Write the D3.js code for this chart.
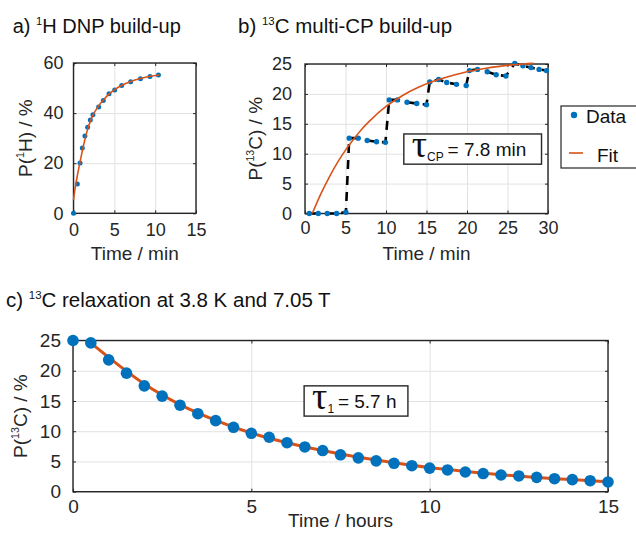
<!DOCTYPE html>
<html>
<head>
<meta charset="utf-8">
<script src="https://cdn.jsdelivr.net/npm/d3@7"></script>
<style>
  body { margin: 0; background: #fff; }
  svg { display: block; font-family: "Liberation Sans", Arial, sans-serif; }
  .grid line { stroke: #e2e2e2; stroke-width: 1; }
  .grid path, .ax path { display: none; }
  .ax line { stroke: #262626; stroke-width: 1; }
  .ax text { fill: #262626; font-family: "Liberation Sans", Arial, sans-serif; }
</style>
</head>
<body>
<script>
  // a) 1H DNP build-up (time in min, polarisation in %)
  var hTime = [0, 0.47, 0.8, 1.08, 1.4, 1.73, 2.06, 2.38, 3.08, 3.65, 4.35, 5.04, 5.9, 7.0, 8.2, 9.36, 10.4];
  var hPol = [0, 11.7, 20.1, 26.1, 30.9, 34.4, 37.2, 39.3, 42.4, 45.0, 47.7, 49.2, 51.0, 52.5, 53.7, 54.6, 55.2];
  var hFitTime = [0, 0.2, 0.5, 0.8, 1.1, 1.4, 1.7, 2.0, 2.4, 3.0, 3.6, 4.3, 5.0, 6.0, 7.0, 8.2, 9.4, 10.5];
  var hFitPol = [5.3, 10.0, 15.5, 20.5, 25.2, 29.5, 33.2, 36.2, 39.3, 42.5, 45.0, 47.5, 49.3, 51.2, 52.6, 53.8, 54.7, 55.2];

  // b) 13C multi-CP build-up
  var cpTime = [0.53, 1.64, 2.75, 3.9, 5.05,
                5.46, 6.57, 7.68, 8.83, 9.93,
                10.4, 11.4, 12.6, 13.8, 15.0,
                15.4, 16.5, 17.5, 18.7, 19.9,
                20.3, 21.3, 22.5, 23.6, 24.8,
                25.9, 26.9, 27.9, 28.9, 29.8];
  var cpPol = [0, 0, 0, 0, 0.2,
               12.6, 12.6, 12.2, 12.0, 11.9,
               19.0, 19.0, 18.6, 18.4, 18.2,
               22.0, 22.4, 21.9, 21.6, 21.4,
               23.9, 24.1, 23.7, 23.2, 23.0,
               25.1, 24.7, 24.4, 24.1, 23.9];
  var cpFitTime = [0.9, 2, 3, 4, 5, 6, 7, 8, 10, 12, 14, 16, 18, 20, 22, 24, 26, 28.2];
  var cpFitPol = [0, 3.4, 6.1, 8.5, 10.6, 12.4, 14.1, 15.5, 17.9, 19.7, 21.1, 22.2, 23.0, 23.7, 24.2, 24.6, 24.9, 25.1];

  // c) 13C relaxation at 3.8 K and 7.05 T (time in hours)
  var relaxTime = [0, 0.5, 1, 1.5, 2, 2.5, 3, 3.5, 4, 4.5, 5, 5.5, 6, 6.5, 7, 7.5, 8, 8.5,
                   9, 9.5, 10, 10.5, 11, 11.5, 12, 12.5, 13, 13.5, 14, 14.5, 15];
  var relaxPol = [25.0, 24.6, 21.8, 19.6, 17.5, 15.8, 14.3, 12.9, 11.75, 10.65, 9.66, 9.0, 8.1, 7.4, 6.8, 6.1, 5.6, 5.1,
                  4.7, 4.3, 3.9, 3.6, 3.26, 3.0, 2.76, 2.6, 2.37, 2.15, 2.0, 1.82, 1.6];
  var relaxFitTime = [0.5, 1, 2, 3, 4, 5, 6, 7, 8, 9, 10, 11, 12, 13, 14, 15];
  var relaxFitPol = [24.6, 22.2, 17.8, 14.4, 11.8, 9.7, 8.1, 6.8, 5.7, 4.8, 4.0, 3.35, 2.8, 2.35, 2.0, 1.65];

  // tick values
  var aXTicks = [0, 5, 10, 15], aYTicks = [0, 20, 40, 60];
  var bXTicks = [0, 5, 10, 15, 20, 25, 30], bYTicks = [0, 5, 10, 15, 20, 25];
  var cXTicks = [0, 5, 10, 15], cYTicks = [0, 5, 10, 15, 20, 25];

  var blue = "#0072BD", orange = "#D95319", ink = "#262626";

  var svg = d3.select("body").append("svg")
    .attr("width", 636)
    .attr("height", 533);

  svg.append("rect").attr("width", 636).attr("height", 533).attr("fill", "#fff");

  // text with super/subscripts: parts = [[text, "sup"|"sub"|null], ...]
  function richText(sel, parts, size) {
    var shift = 0;
    parts.forEach(function (p) {
      var t = sel.append("tspan").text(p[0]);
      var target = p[1] == "sup" ? -size * 0.38 : p[1] == "sub" ? size * 0.3 : 0;
      if (p[1]) t.attr("font-size", size * 0.56);
      if (target != shift) t.attr("dy", target - shift);
      shift = target;
    });
  }

  function drawPanel(p) {
    var x = d3.scaleLinear().domain(p.xDomain).range([p.left, p.right]);
    var y = d3.scaleLinear().domain(p.yDomain).range([p.bottom, p.top]);
    var g = svg.append("g");
    var w = p.right - p.left, h = p.bottom - p.top;

    // grid
    g.append("g").attr("class", "grid")
      .attr("transform", "translate(0," + p.bottom + ")")
      .call(d3.axisBottom(x).tickValues(p.xTicks).tickSize(-h).tickFormat(""));
    g.append("g").attr("class", "grid")
      .attr("transform", "translate(" + p.left + ",0)")
      .call(d3.axisLeft(y).tickValues(p.yTicks).tickSize(-w).tickFormat(""));

    // inward ticks on all four sides
    var xb = g.append("g").attr("class", "ax")
      .attr("transform", "translate(0," + p.bottom + ")")
      .call(d3.axisBottom(x).tickValues(p.xTicks).tickSize(-3).tickPadding(p.xPad));
    var yl = g.append("g").attr("class", "ax")
      .attr("transform", "translate(" + p.left + ",0)")
      .call(d3.axisLeft(y).tickValues(p.yTicks).tickSize(-3).tickPadding(p.yPad));
    g.append("g").attr("class", "ax")
      .attr("transform", "translate(0," + p.top + ")")
      .call(d3.axisTop(x).tickValues(p.xTicks).tickSize(-3).tickFormat(""));
    g.append("g").attr("class", "ax")
      .attr("transform", "translate(" + p.right + ",0)")
      .call(d3.axisRight(y).tickValues(p.yTicks).tickSize(-3).tickFormat(""));
    xb.selectAll("text").attr("font-size", p.tickFont);
    yl.selectAll("text").attr("font-size", p.tickFont);

    g.append("rect")
      .attr("x", p.left).attr("y", p.top)
      .attr("width", w).attr("height", h)
      .attr("fill", "none").attr("stroke", ink).attr("stroke-width", 1.4);

    // titles and labels
    richText(svg.append("text").attr("x", p.titleX).attr("y", p.titleY)
      .attr("font-size", p.titleFont).attr("fill", "#111"), p.title, p.titleFont);
    svg.append("text")
      .attr("x", (p.left + p.right) / 2).attr("y", p.xLabelY)
      .attr("text-anchor", "middle").attr("font-size", p.labelFont).attr("fill", ink)
      .text(p.xLabel);
    richText(svg.append("text")
      .attr("transform", "translate(" + p.yLabelX + "," + (p.top + p.bottom) / 2 + ")rotate(-90)")
      .attr("text-anchor", "middle").attr("dy", "0.35em")
      .attr("font-size", p.labelFont).attr("fill", ink), p.yLabel, p.labelFont);

    return { x: x, y: y, g: g };
  }

  function curve(panel, xs, ys) {
    return d3.line()
      .x(function (i) { return panel.x(xs[i]); })
      .y(function (i) { return panel.y(ys[i]); })
      .curve(d3.curveMonotoneX)(d3.range(xs.length));
  }

  function dots(panel, xs, ys, r) {
    panel.g.append("g").selectAll("circle")
      .data(d3.range(xs.length))
      .enter().append("circle")
      .attr("cx", function (i) { return panel.x(xs[i]); })
      .attr("cy", function (i) { return panel.y(ys[i]); })
      .attr("r", r)
      .attr("fill", blue);
  }

  function tauBox(panel, box, sub, rest, tauSize) {
    var x0 = panel.x(box[0]), x1 = panel.x(box[1]);
    var y0 = panel.y(box[3]), y1 = panel.y(box[2]);
    panel.g.append("rect")
      .attr("x", x0).attr("y", y0).attr("width", x1 - x0).attr("height", y1 - y0)
      .attr("fill", "#fff").attr("stroke", ink).attr("stroke-width", 1.4);
    var t = panel.g.append("text").attr("x", x0 + 8).attr("y", y1 - 8).attr("fill", "#111");
    t.append("tspan").attr("font-family", "'Liberation Serif', serif").attr("font-size", tauSize)
      .attr("dy", 1).text("\u03c4");
    t.append("tspan").attr("font-size", 12).attr("dy", 4).text(sub);
    t.append("tspan").attr("font-size", 19).attr("dy", -5).text("\u2009= " + rest);
  }

  // ---- panel a ----
  var pa = drawPanel({
    xDomain: [0, 15], yDomain: [0, 60], left: 73.5, right: 196, top: 63, bottom: 213.3,
    xTicks: aXTicks, yTicks: aYTicks, xPad: 10, yPad: 10, tickFont: 18,
    title: [["a) ", null], ["1", "sup"], ["H DNP build-up", null]], titleX: 12.7, titleY: 33, titleFont: 20,
    xLabel: "Time / min", xLabelY: 260, labelFont: 19,
    yLabel: [["P(", null], ["1", "sup"], ["H) / %", null]], yLabelX: 25
  });
  dots(pa, hTime, hPol, 2.5);
  pa.g.append("path").attr("d", curve(pa, hFitTime, hFitPol))
    .attr("fill", "none").attr("stroke", orange).attr("stroke-width", 1.6);

  // ---- panel b ----
  var pb = drawPanel({
    xDomain: [0, 30], yDomain: [0, 25], left: 305, right: 548, top: 64, bottom: 213.5,
    xTicks: bXTicks, yTicks: bYTicks, xPad: 8, yPad: 13, tickFont: 18,
    title: [["b) ", null], ["13", "sup"], ["C multi-CP build-up", null]], titleX: 238, titleY: 33, titleFont: 20.5,
    xLabel: "Time / min", xLabelY: 260, labelFont: 19,
    yLabel: [["P(", null], ["13", "sup"], ["C) / %", null]], yLabelX: 255
  });
  pb.g.append("path")
    .attr("d", d3.line()
      .x(function (i) { return pb.x(cpTime[i]); })
      .y(function (i) { return pb.y(cpPol[i]); })(d3.range(cpTime.length)))
    .attr("fill", "none").attr("stroke", "#000").attr("stroke-width", 2.6)
    .attr("stroke-dasharray", "9,7");
  dots(pb, cpTime, cpPol, 2.7);
  pb.g.append("path").attr("d", curve(pb, cpFitTime, cpFitPol))
    .attr("fill", "none").attr("stroke", orange).attr("stroke-width", 1.6);
  tauBox(pb, [12.2, 29.2, 8.25, 13.3], "CP", "7.8 min", 38);

  // legend
  var lg = svg.append("g").attr("transform", "translate(561,106)");
  lg.append("rect").attr("width", 90).attr("height", 62)
    .attr("fill", "#fff").attr("stroke", ink).attr("stroke-width", 1.2);
  lg.append("circle").attr("cx", 13).attr("cy", 9).attr("r", 3.2).attr("fill", blue);
  lg.append("text").attr("x", 25).attr("y", 17).attr("font-size", 19).attr("fill", "#111").text("Data");
  lg.append("line").attr("x1", 8).attr("x2", 22).attr("y1", 47).attr("y2", 47)
    .attr("stroke", orange).attr("stroke-width", 1.6);
  lg.append("text").attr("x", 36).attr("y", 56).attr("font-size", 19).attr("fill", "#111").text("Fit");

  // ---- panel c ----
  var pc = drawPanel({
    xDomain: [0, 15], yDomain: [0, 25], left: 73, right: 608, top: 340.5, bottom: 491.7,
    xTicks: cXTicks, yTicks: cYTicks, xPad: 8, yPad: 12, tickFont: 19,
    title: [["c) ", null], ["13", "sup"], ["C relaxation at 3.8 K and 7.05 T", null]], titleX: 6, titleY: 306.7, titleFont: 20.5,
    xLabel: "Time / hours", xLabelY: 527, labelFont: 19,
    yLabel: [["P(", null], ["13", "sup"], ["C) / %", null]], yLabelX: 20
  });
  pc.g.append("path").attr("d", curve(pc, relaxFitTime, relaxFitPol))
    .attr("fill", "none").attr("stroke", orange).attr("stroke-width", 3);
  dots(pc, relaxTime, relaxPol, 5.8);
  tauBox(pc, [6.48, 9.39, 12.5, 17.5], "1", "5.7 h", 38);
</script>
</body>
</html>
